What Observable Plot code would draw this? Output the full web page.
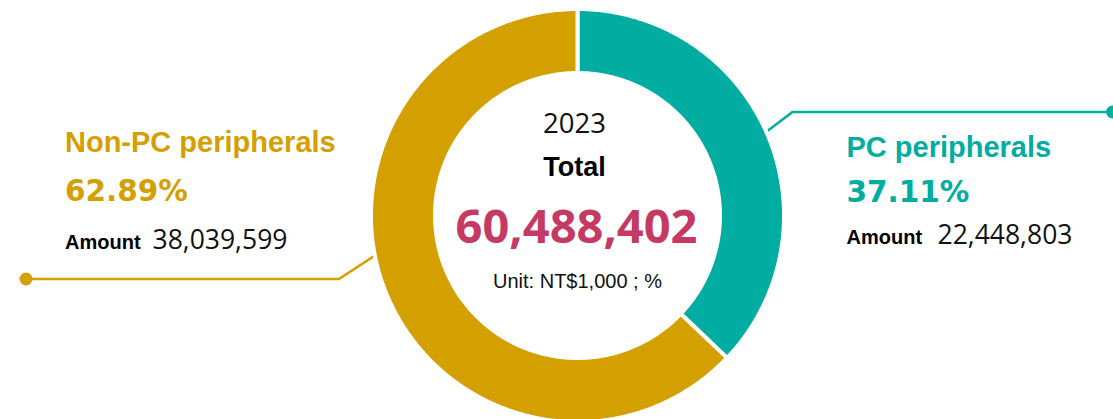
<!DOCTYPE html>
<html>
<head>
<meta charset="utf-8">
<script src="https://cdn.jsdelivr.net/npm/d3@7"></script>
<script src="https://cdn.jsdelivr.net/npm/@observablehq/plot@0.6"></script>
<style>
  html, body { margin: 0; padding: 0; background: #fff; overflow: hidden; }
  #chart svg { display: block; }
</style>
</head>
<body>
<div id="chart"></div>
<script>
// ---------- data ----------
const categories = ["PC peripherals", "Non-PC peripherals"];
const amounts = [22448803, 38039599];
const shares = [37.11, 62.89];
const year = "2023";
const totalLabel = "Total";
const totalAmount = 60488402;
const unitLabel = "Unit: NT$1,000 ; %";
const amountLabel = "Amount";

// ---------- style / layout ----------
const W = 1113, H = 419;
const colors = ["#00ada0", "#d4a000"];
const totalColor = "#c43a63";
const cx = 577, cy = 215;
const sepWidth = 4;
const rOuter = 204.5 + sepWidth / 2, rInner = 144.5 - sepWidth / 2;
const sansFont = "'Liberation Sans', Arial, sans-serif";
const numFont = "'Open Sans', 'Noto Sans', sans-serif";
const pctFont = "'DejaVu Sans', sans-serif";

const rows = categories.map((c, i) => ({category: c, amount: amounts[i], share: shares[i]}));
const arcs = d3.pie().sort(null).value(d => d.amount)(rows);

// polygon vertices for each donut slice (derived from pie angles)
const polar = (r, a) => [cx + r * Math.sin(a), cy - r * Math.cos(a)];
const slicePts = [];
for (const a of arcs) {
  const n = Math.max(2, Math.ceil((a.endAngle - a.startAngle) / (Math.PI / 360)));
  for (let k = 0; k <= n; k++) {
    const t = a.startAngle + (a.endAngle - a.startAngle) * k / n;
    const [x, y] = polar(rOuter, t);
    slicePts.push({category: a.data.category, x, y});
  }
  for (let k = n; k >= 0; k--) {
    const t = a.startAngle + (a.endAngle - a.startAngle) * k / n;
    const [x, y] = polar(rInner, t);
    slicePts.push({category: a.data.category, x, y});
  }
}

// label block layout per category
const layout = {
  "PC peripherals":     {x: 846, pctX: 846, numX: 937, titleY: 156.7, pctY: 201.7, amtY: 243, leader: {angle: 66.5, elbow: [792, 111.5], end: 1112}},
  "Non-PC peripherals": {x: 64.5, pctX: 64.5, numX: 152, titleY: 151.7, pctY: 200, amtY: 248.7, leader: {angle: 259.5, elbow: [338.5, 278.5], end: 25.5}}
};

const leaderPts = [];
const leaderEnds = [];
for (const r of rows) {
  const L = layout[r.category].leader;
  const [sx, sy] = polar(rOuter - 6, L.angle * Math.PI / 180);
  leaderPts.push({category: r.category, x: sx, y: sy});
  leaderPts.push({category: r.category, x: L.elbow[0], y: L.elbow[1]});
  leaderPts.push({category: r.category, x: L.end, y: L.elbow[1]});
  leaderEnds.push({category: r.category, x: L.end, y: L.elbow[1]});
}

const fmt = d3.format(",");
const lbl = rows.map(r => ({...r, ...layout[r.category]}));

const chart = Plot.plot({
  width: W, height: H,
  margin: 0,
  x: {type: "identity", axis: null},
  y: {type: "identity", axis: null},
  color: {domain: categories, range: colors},
  marks: [
    // leader lines
    Plot.line(leaderPts, {x: "x", y: "y", z: "category", stroke: "category", strokeWidth: 2.6}),
    Plot.dot(leaderEnds, {x: "x", y: "y", r: 6.5, fill: "category"}),
    // donut slices
    Plot.line(slicePts, {x: "x", y: "y", z: "category", fill: "category", stroke: "white",
      strokeWidth: sepWidth, curve: "linear-closed", strokeLinejoin: "miter"}),
    // center texts
    Plot.text([year], {x: () => 574, y: () => 132.3, text: d => d, fontFamily: numFont, fontSize: 27.5,
      fill: "#111", lineAnchor: "bottom", textAnchor: "middle"}),
    Plot.text([totalLabel], {x: () => 574, y: () => 175, text: d => d, fontFamily: sansFont, fontSize: 27,
      fontWeight: "bold", fill: "#000", lineAnchor: "bottom", textAnchor: "middle"}),
    Plot.text([totalAmount], {x: () => 576, y: () => 242, text: d => fmt(d), fontFamily: numFont, fontSize: 47,
      fontWeight: "bold", fill: totalColor, lineAnchor: "bottom", textAnchor: "middle"}),
    Plot.text([unitLabel], {x: () => 577, y: () => 287.7, text: d => d, fontFamily: sansFont, fontSize: 20,
      fill: "#111", lineAnchor: "bottom", textAnchor: "middle"}),
    // side label blocks
    Plot.text(lbl, {x: "x", y: "titleY", text: "category", fill: "category", fontFamily: sansFont,
      fontSize: 29, fontWeight: "bold", textAnchor: "start", lineAnchor: "bottom"}),
    Plot.text(lbl, {x: "pctX", y: "pctY", text: d => d.share.toFixed(2) + "%", fill: "category", fontFamily: pctFont,
      fontSize: 29.5, fontWeight: "bold", textAnchor: "start", lineAnchor: "bottom"}),
    Plot.text(lbl, {x: "x", y: "amtY", text: () => amountLabel, fill: "#000", fontFamily: sansFont,
      fontSize: 20, fontWeight: "bold", textAnchor: "start", lineAnchor: "bottom"}),
    Plot.text(lbl, {x: "numX", y: "amtY", text: d => fmt(d.amount), fill: "#111", fontFamily: numFont,
      fontSize: 26.5, textAnchor: "start", lineAnchor: "bottom"})
  ]
});
document.getElementById("chart").append(chart);
</script>
</body>
</html>
